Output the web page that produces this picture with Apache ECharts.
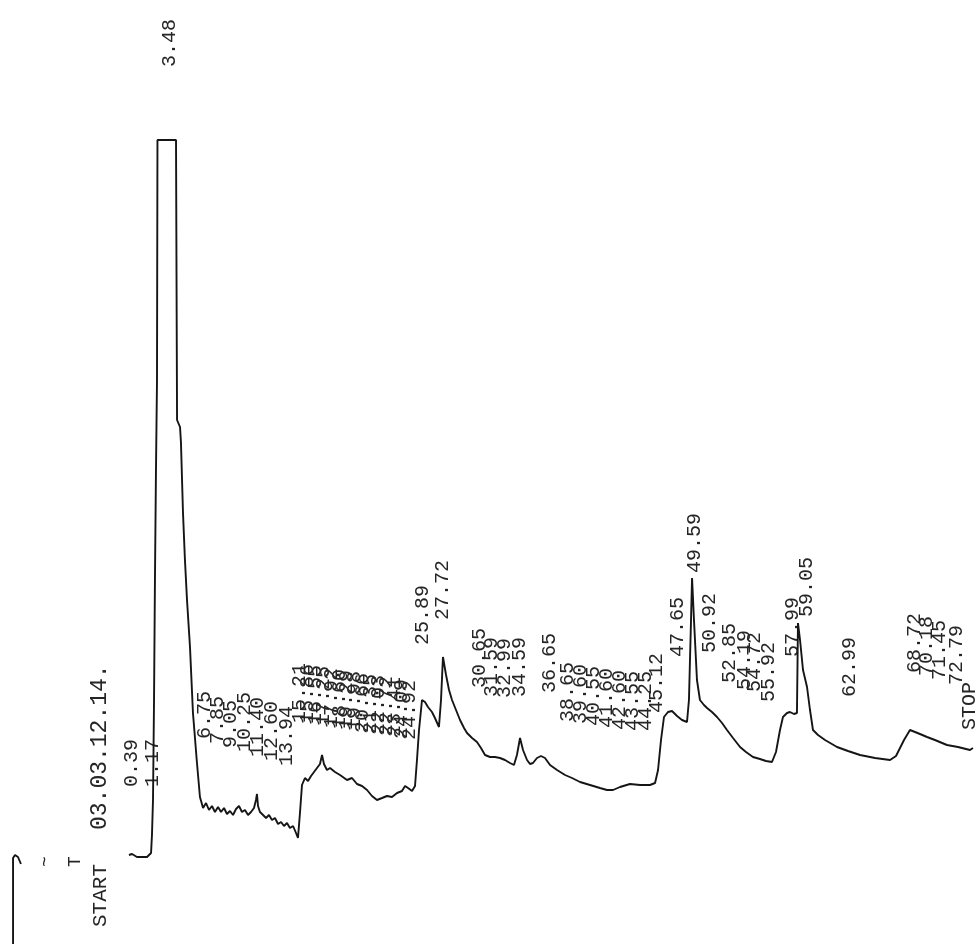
<!DOCTYPE html>
<html><head><meta charset="utf-8">
<script src="https://cdn.jsdelivr.net/npm/echarts@6/dist/echarts.min.js"></script>
<style>html,body{margin:0;padding:0;background:#fff}#c{width:978px;height:944px}</style>
</head><body><div id="c"></div>
<script>
// Retention time (min) and detector signal (arbitrary units, baseline = 0)
const traceTime = [0.26,0.53,0.96,1.84,2.19,2.27,2.36,2.45,2.53,2.62,2.71,2.75,4.37,4.46,4.72,4.80,4.98,5.15,5.33,5.59,5.85,6.20,6.46,
6.73,6.99,7.25,7.51,7.77,8.04,8.30,8.56,8.82,9.08,9.35,9.61,9.87,10.13,10.39,10.66,10.92,11.18,11.35,11.44,11.53,11.70,11.97,12.23,12.49,12.75,13.01,13.28,13.54,13.80,14.06,14.32,14.59,14.85,15.02,
15.20,15.37,15.63,15.90,16.16,16.42,16.68,16.94,17.12,17.29,17.55,17.82,18.25,18.69,19.30,19.74,20.17,20.61,21.05,21.48,21.92,22.36,22.79,23.23,23.67,24.10,24.37,24.63,24.98,25.24,
25.41,25.59,25.85,26.11,26.37,26.72,26.98,27.33,27.51,27.68,27.95,28.21,28.47,28.82,29.17,29.52,29.78,30.22,30.65,31.00,31.35,31.79,32.22,32.66,33.10,33.53,33.88,34.14,34.41,34.67,35.02,35.28,35.54,35.89,36.24,36.59,37.03,37.64,38.34,38.95,39.65,40.52,41.39,42.00,42.53,43.14,44.01,44.89,45.76,46.20,
46.46,46.72,46.98,47.33,47.68,48.12,48.55,48.99,49.16,49.34,49.43,49.60,49.86,50.12,50.47,50.74,51.17,51.61,52.05,52.48,53.01,53.62,54.14,54.75,55.36,55.89,56.41,
56.76,57.11,57.37,57.72,57.98,58.33,58.59,58.68,58.86,59.12,59.47,59.73,59.99,60.43,61.04,62.09,63.05,64.10,65.41,66.72,67.24,67.59,67.94,68.46,68.90,69.33,69.95,70.64,71.69,72.65,73.70,73.96];
const traceSignal = [0,1,-2,-2,2,20,55,155,275,385,475,715,715,435,428,413,342,295,255,208,142,92,58,
47,52,45,49,43,48,43,47,41,44,40,46,49,43,45,40,43,47,55,61,49,43,40,37,40,35,37,31,33,29,32,27,29,22,17,
43,70,77,74,79,83,87,91,100,91,85,87,83,80,75,77,71,69,65,59,55,57,59,58,62,64,69,67,64,69,
95,125,155,153,148,143,137,128,155,198,180,165,155,145,135,127,122,117,113,107,100,98,98,97,95,92,90,100,117,105,95,91,92,97,99,97,90,85,80,77,73,70,67,65,65,68,71,70,70,72,
85,115,138,143,144,139,135,133,155,235,277,235,175,155,150,147,143,138,132,125,117,108,103,98,96,94,93,
103,125,138,142,143,141,142,232,215,185,168,145,125,120,115,108,104,100,97,95,99,107,115,125,123,121,118,115,110,108,105,107];

// Peak annotations printed by the integrator: text, print time (min), level of label start
const peakLabels = ["0.39","1.17","3.48",
 "6.75","7.85","9.05","10.25","11.40","12.60","13.94",
 "15.21","15.86","16.55","17.25","17.92","18.60","19.29","19.98","20.66","21.35","22.03","22.72","23.41","24.09","24.92",
 "25.89","27.72","30.65","31.59","32.99","34.59","36.65",
 "38.65","39.60","40.55","41.60","42.60","43.55","44.25","45.12",
 "47.65","49.59","50.92","52.85","54.19","54.72","55.92","57.99","59.05","62.99",
 "68.72","70.18","71.45","72.79","STOP"];
const labelTime = [0.50,2.30,3.84,
 6.90,8.04,9.17,10.39,11.53,12.75,14.06,
 15.20,15.89,16.57,17.26,17.94,18.63,19.31,20.00,20.69,21.37,22.06,22.74,23.43,24.11,24.80,
 25.95,27.68,30.91,31.96,33.10,34.41,37.03,
 38.60,39.73,40.87,42.00,43.14,44.27,45.41,46.37,
 48.20,49.69,51.00,52.74,54.05,54.93,56.15,58.25,59.47,63.22,
 68.90,69.95,71.08,72.57,73.70];
const labelLevel = [68,68,788,
 116,111,107,103,98,94,89,
 132,131,130,129,127,126,125,124,122,121,120,119,118,116,115,
 210,235,167,158,157,158,162,
 133,131,129,127,125,124,124,142,
 198,282,202,172,165,163,153,198,238,158,
 182,179,175,170,125];

const headerTexts = ["START","03.03.12.14."];
const headerTime = [-2.27,-2.27];
const headerLevel = [-72,25];
const markTexts = ["~","T"];
const markTime = [-7.07,-4.45];
const markLevel = [-12,-12];
// tail of previous run (pen return) at the far left
const penTime = [-9.86,-9.86,-9.69,-9.43,-9.17];
const penSignal = [-89,-3,0,-2,-9];

function textSeries(texts, times, levels, font) {
  return {
    type: 'custom', coordinateSystem: 'cartesian2d', silent: true, clip: false,
    data: texts.map((s, i) => [times[i], levels[i]]),
    encode: {x: 0, y: 1},
    renderItem: (params, api) => {
      const p = api.coord([api.value(0), api.value(1)]);
      return {type: 'text', x: p[0], y: p[1], rotation: Math.PI / 2,
        style: {text: texts[params.dataIndex], font: font, fill: '#262626',
          align: 'left', verticalAlign: 'middle'}};
    }
  };
}

const chart = echarts.init(document.getElementById('c'), null, {renderer: 'canvas'});
chart.setOption({
  backgroundColor: '#fff',
  animation: false,
  grid: {left: 0, right: 0, top: 0, bottom: 0},
  xAxis: {type: 'value', min: -11, max: 74.4, show: false},
  yAxis: {type: 'value', min: -89, max: 855, show: false},
  series: [
    {type: 'line', data: traceTime.map((t, i) => [t, traceSignal[i]]), symbol: 'none',
     lineStyle: {color: '#151515', width: 1.9}, silent: true},
    {type: 'line', data: penTime.map((t, i) => [t, penSignal[i]]), symbol: 'none',
     lineStyle: {color: '#151515', width: 1.9}, silent: true},
    textSeries(peakLabels, labelTime, labelLevel, '20px "Liberation Mono"'),
    textSeries(headerTexts.slice(0,1), headerTime.slice(0,1), headerLevel.slice(0,1), '21px "Liberation Mono"'),
    textSeries(headerTexts.slice(1), headerTime.slice(1), headerLevel.slice(1), '23px "Liberation Mono"'),
    textSeries(markTexts, markTime, markLevel, '18px "Liberation Mono"')
  ]
});
</script></body></html>
